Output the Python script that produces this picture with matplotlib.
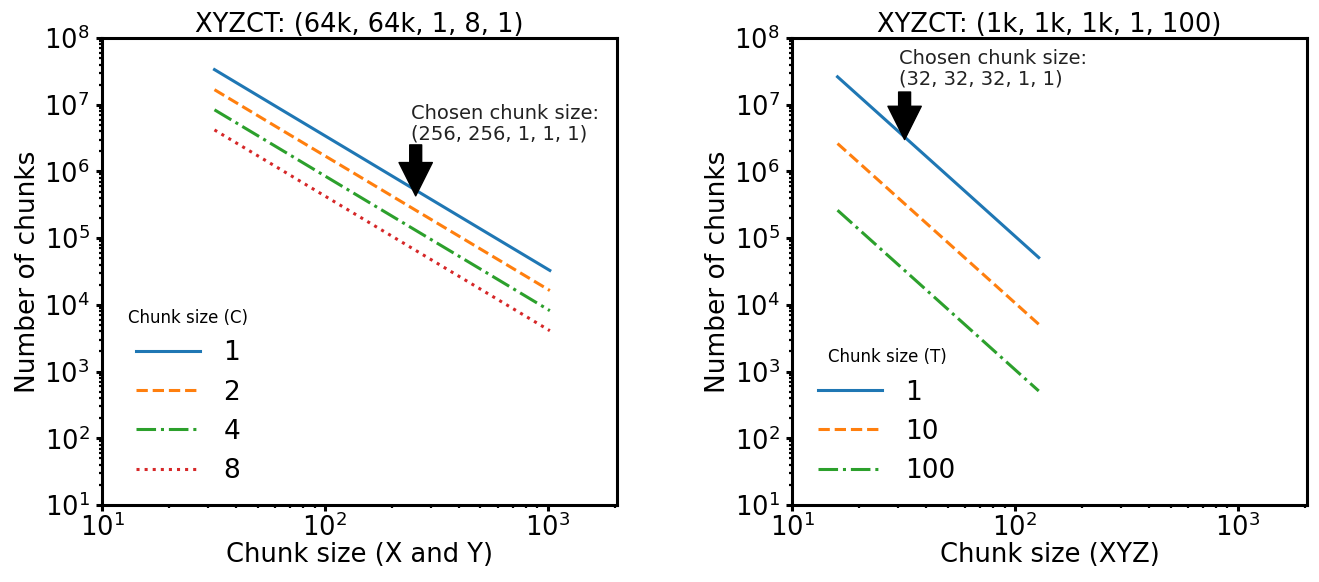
import matplotlib
matplotlib.use("Agg")
import matplotlib.pyplot as plt
from matplotlib.ticker import LogLocator

# ---- data ----
xy_sizes = [32, 64, 128, 256, 512, 1024]
c_labels = ["1", "2", "4", "8"]
c_counts = [
    [3.36e7, 8.39e6, 2.10e6, 5.24e5, 1.31e5, 3.28e4],
    [1.68e7, 4.19e6, 1.05e6, 2.62e5, 6.55e4, 1.64e4],
    [8.39e6, 2.10e6, 5.24e5, 1.31e5, 3.28e4, 8.19e3],
    [4.19e6, 1.05e6, 2.62e5, 6.55e4, 1.64e4, 4.10e3],
]
xyz_sizes = [16, 32, 64, 128]
t_labels = ["1", "10", "100"]
t_counts = [
    [2.62e7, 3.28e6, 4.10e5, 5.12e4],
    [2.62e6, 3.28e5, 4.10e4, 5.12e3],
    [2.62e5, 3.28e4, 4.10e3, 5.12e2],
]
y_major = [1e1, 1e2, 1e3, 1e4, 1e5, 1e6, 1e7, 1e8]
x_major = [1e1, 1e2, 1e3]
left_title = "XYZCT: (64k, 64k, 1, 8, 1)"
right_title = "XYZCT: (1k, 1k, 1k, 1, 100)"
left_note = "Chosen chunk size:\n(256, 256, 1, 1, 1)"
right_note = "Chosen chunk size:\n(32, 32, 32, 1, 1)"

colors = ["#1f77b4", "#ff7f0e", "#2ca02c", "#d62728"]
styles = ["-", "--", "-.", ":"]

fig = plt.figure(figsize=(13.19, 5.82), dpi=100)
axL = fig.add_axes([0.0773, 0.1323, 0.3904, 0.8024])
axR = fig.add_axes([0.6005, 0.1323, 0.3904, 0.8024])

for i, lab in enumerate(c_labels):
    axL.plot(xy_sizes, c_counts[i], color=colors[i], ls=styles[i], lw=2.2, label=lab)
for i, lab in enumerate(t_labels):
    axR.plot(xyz_sizes, t_counts[i], color=colors[i], ls=styles[i], lw=2.2, label=lab)

for ax, title, xlabel in [(axL, left_title, "Chunk size (X and Y)"),
                          (axR, right_title, "Chunk size (XYZ)")]:
    ax.set_xscale("log")
    ax.set_yscale("log")
    ax.set_xlim(10, 2048)
    ax.set_ylim(10, 1e8)
    ax.set_xticks(x_major)
    ax.set_yticks(y_major)
    ax.set_title(title, fontsize=18.5, pad=4)
    ax.set_xlabel(xlabel, fontsize=18.5, labelpad=0)
    ax.set_ylabel("Number of chunks", fontsize=19, labelpad=2)
    for s in ax.spines.values():
        s.set_linewidth(2.2)
    ax.tick_params(which="major", labelsize=18.5, length=4, width=2.2, pad=5)
    ax.tick_params(axis="x", which="major", pad=2)
    ax.tick_params(which="minor", length=2.5, width=1.6)

legL = axL.legend(title="Chunk size (C)", loc="lower left", bbox_to_anchor=(0.01, 0.0),
                  frameon=False, fontsize=19, title_fontsize=12,
                  handlelength=2.4, handletextpad=0.9, labelspacing=0.5, borderaxespad=0.4)
legR = axR.legend(title="Chunk size (T)", loc="lower left", bbox_to_anchor=(0.01, 0.0),
                  frameon=False, fontsize=19, title_fontsize=12,
                  handlelength=2.4, handletextpad=0.9, labelspacing=0.5, borderaxespad=0.4)

arrow = dict(facecolor="black", edgecolor="black", width=8.6, headwidth=24, headlength=24, shrink=0.0)
axL.annotate("", xy=(256, 4.3e5), xytext=(256, 2.5e6), arrowprops=arrow)
axL.text(243, 2.6e6, left_note, fontsize=14, ha="left", va="bottom", color="#222222",
         linespacing=1.1)
axR.annotate("", xy=(32, 3.0e6), xytext=(32, 1.55e7), arrowprops=arrow)
axR.text(30.2, 1.78e7, right_note, fontsize=14, ha="left", va="bottom", color="#222222",
         linespacing=1.1)

fig.savefig("out.png", dpi=100)
